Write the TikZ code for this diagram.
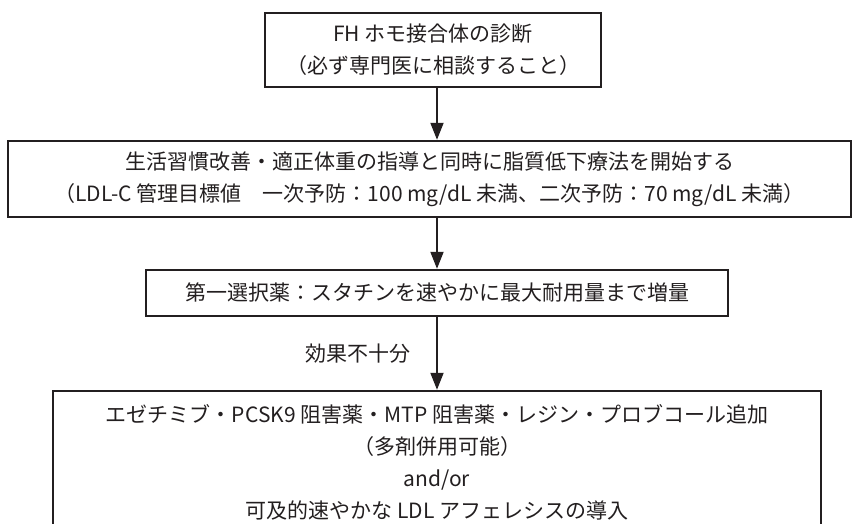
\documentclass[tikz,border=0pt]{standalone}
\usepackage{fontspec}
\setmainfont{Noto Sans CJK JP}
\usetikzlibrary{arrows.meta,positioning}
\definecolor{inkgray}{HTML}{231F20}
\tikzset{
  box/.style={draw=inkgray, line width=2.5pt, fill=white, align=center, inner sep=0pt,
    text=inkgray, font=\fontsize{21}{32}\selectfont},
  flow/.style={draw=inkgray, line width=2pt, -{Triangle[length=17pt,width=13pt]}},
}
\begin{document}
\begin{tikzpicture}[x=1pt,y=-1pt]
        \useasboundingbox (0,0) rectangle (853,523);
        \clip (0,0) rectangle (853,523);
        \node[box, minimum width=336pt, minimum height=74pt] (diag) at (433,50)
          {FH ホモ接合体の診断\\（必ず専門医に相談すること）};
        \node[box, minimum width=843pt, minimum height=76pt] (start) at (429.5,179)
          {生活習慣改善・適正体重の指導と同時に脂質低下療法を開始する\\（LDL-C 管理目標値　一次予防：100 mg/dL 未満、二次予防：70 mg/dL 未満）};
        \node[box, minimum width=582pt, minimum height=46pt] (statin) at (437,293)
          {第一選択薬：スタチンを速やかに最大耐用量まで増量};
        \node[box, minimum width=768pt, minimum height=142pt] (add) at (437,462)
          {エゼチミブ・PCSK9 阻害薬・MTP 阻害薬・レジン・プロブコール追加\\（多剤併用可能）\\and/or\\可及的速やかな LDL アフェレシスの導入};
        \draw[flow] (diag.south -| statin.north) -- (start.north -| statin.north);
        \draw[flow] (start.south -| statin.north) -- (statin.north);
        \draw[flow] (statin.south) -- node[left=22pt, text=inkgray, font=\fontsize{21}{32}\selectfont] (lack) {効果不十分} (add.north);
      \end{tikzpicture}
\end{document}
